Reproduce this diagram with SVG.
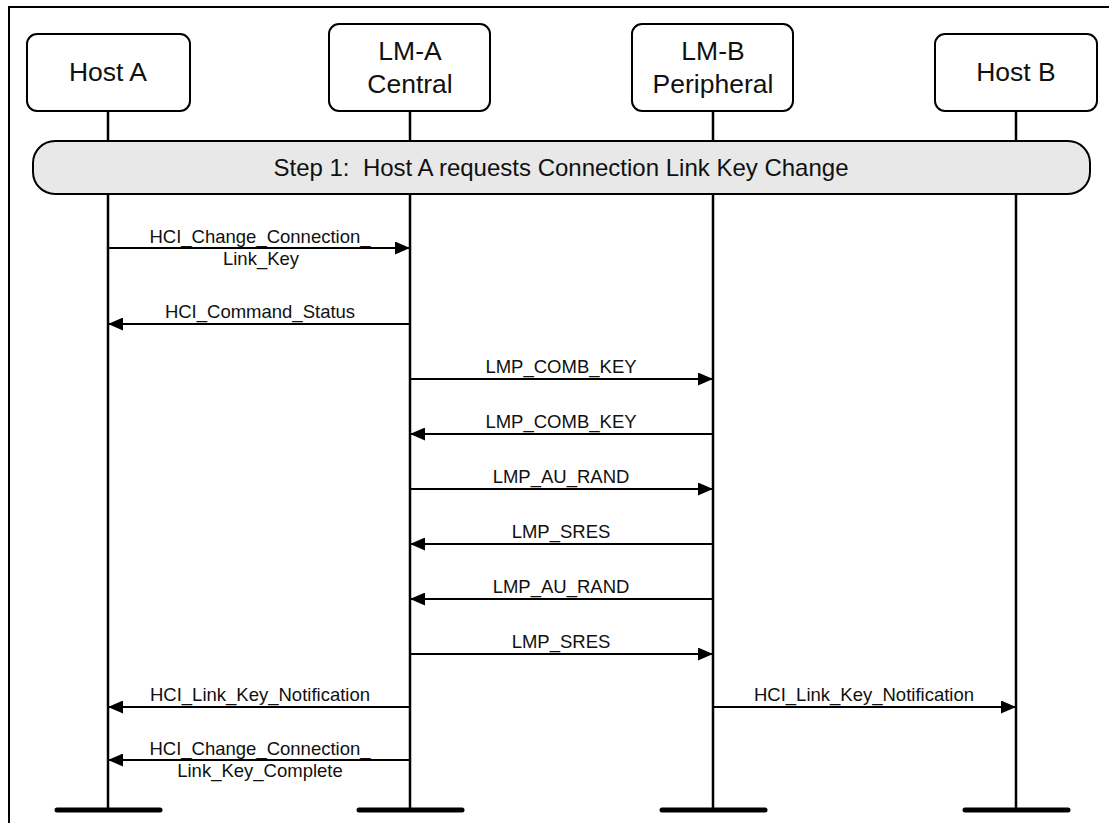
<svg xmlns="http://www.w3.org/2000/svg" width="1109" height="823" viewBox="0 0 1109 823">
<style>
.box{fill:#fff;stroke:#000;stroke-width:2}
.life{stroke:#000;stroke-width:2.5}
.foot{stroke:#000;stroke-width:5;stroke-linecap:round}
.msg{stroke:#000;stroke-width:2.2;fill:none}
.t{font-family:"Liberation Sans",Arial,sans-serif;fill:#111;text-anchor:middle}
.nt{font-size:26.5px}
.st{font-size:24px}
.mt{font-size:18.5px}
</style>
<defs>
<marker id="ah" viewBox="0 0 15 13" refX="15" refY="6.5" markerWidth="15" markerHeight="13" markerUnits="userSpaceOnUse" orient="auto">
<path d="M0,0 L15,6.5 L0,13 Z" fill="#000"/>
</marker>
</defs>
<rect width="1109" height="823" fill="#fff"/>
<path d="M9,823 V7 H1109" fill="none" stroke="#000" stroke-width="2"/>
<g id="lifelines">
<line class="life" x1="108" y1="111" x2="108" y2="810"/>
<line class="life" x1="410" y1="111" x2="410" y2="810"/>
<line class="life" x1="713" y1="111" x2="713" y2="810"/>
<line class="life" x1="1016" y1="111" x2="1016" y2="810"/>
<line class="foot" x1="57" y1="810" x2="160" y2="810"/>
<line class="foot" x1="359" y1="810" x2="462" y2="810"/>
<line class="foot" x1="662" y1="810" x2="765" y2="810"/>
<line class="foot" x1="965" y1="810" x2="1068" y2="810"/>
</g>
<g id="hostA">
<rect class="box" x="27" y="34" width="163" height="77" rx="10"/>
<text class="t nt" x="108" y="81">Host A</text>
</g>
<g id="lmA">
<rect class="box" x="329" y="24" width="161" height="87" rx="10"/>
<text class="t nt" x="410" y="60">LM-A</text>
<text class="t nt" x="410" y="93">Central</text>
</g>
<g id="lmB">
<rect class="box" x="632" y="24" width="161" height="87" rx="10"/>
<text class="t nt" x="713" y="60">LM-B</text>
<text class="t nt" x="713" y="93">Peripheral</text>
</g>
<g id="hostB">
<rect class="box" x="935" y="34" width="162" height="77" rx="10"/>
<text class="t nt" x="1016" y="81">Host B</text>
</g>
<g id="step1">
<rect x="33" y="141" width="1057" height="53" rx="22" fill="#e8e8e8" stroke="#000" stroke-width="2"/>
<text class="t st" x="561" y="176" xml:space="preserve">Step 1:  Host A requests Connection Link Key Change</text>
</g>
<g id="connectors">
<line class="msg" x1="108" y1="248" x2="410" y2="248" marker-end="url(#ah)"/>
<line class="msg" x1="410" y1="324" x2="108" y2="324" marker-end="url(#ah)"/>
<line class="msg" x1="410" y1="379" x2="713" y2="379" marker-end="url(#ah)"/>
<line class="msg" x1="713" y1="434" x2="410" y2="434" marker-end="url(#ah)"/>
<line class="msg" x1="410" y1="489" x2="713" y2="489" marker-end="url(#ah)"/>
<line class="msg" x1="713" y1="544" x2="410" y2="544" marker-end="url(#ah)"/>
<line class="msg" x1="713" y1="599" x2="410" y2="599" marker-end="url(#ah)"/>
<line class="msg" x1="410" y1="654" x2="713" y2="654" marker-end="url(#ah)"/>
<line class="msg" x1="410" y1="707" x2="108" y2="707" marker-end="url(#ah)"/>
<line class="msg" x1="713" y1="707" x2="1016" y2="707" marker-end="url(#ah)"/>
<line class="msg" x1="410" y1="760" x2="108" y2="760" marker-end="url(#ah)"/>
</g>
<g id="labels">
<text class="t mt" x="260" y="243">HCI_Change_Connection_</text>
<text class="t mt" x="261" y="265">Link_Key</text>
<text class="t mt" x="260" y="318">HCI_Command_Status</text>
<text class="t mt" x="561" y="373">LMP_COMB_KEY</text>
<text class="t mt" x="561" y="428">LMP_COMB_KEY</text>
<text class="t mt" x="561" y="483">LMP_AU_RAND</text>
<text class="t mt" x="561" y="538">LMP_SRES</text>
<text class="t mt" x="561" y="593">LMP_AU_RAND</text>
<text class="t mt" x="561" y="648">LMP_SRES</text>
<text class="t mt" x="260" y="701">HCI_Link_Key_Notification</text>
<text class="t mt" x="864" y="701">HCI_Link_Key_Notification</text>
<text class="t mt" x="260" y="755">HCI_Change_Connection_</text>
<text class="t mt" x="260" y="777">Link_Key_Complete</text>
</g>
</svg>
